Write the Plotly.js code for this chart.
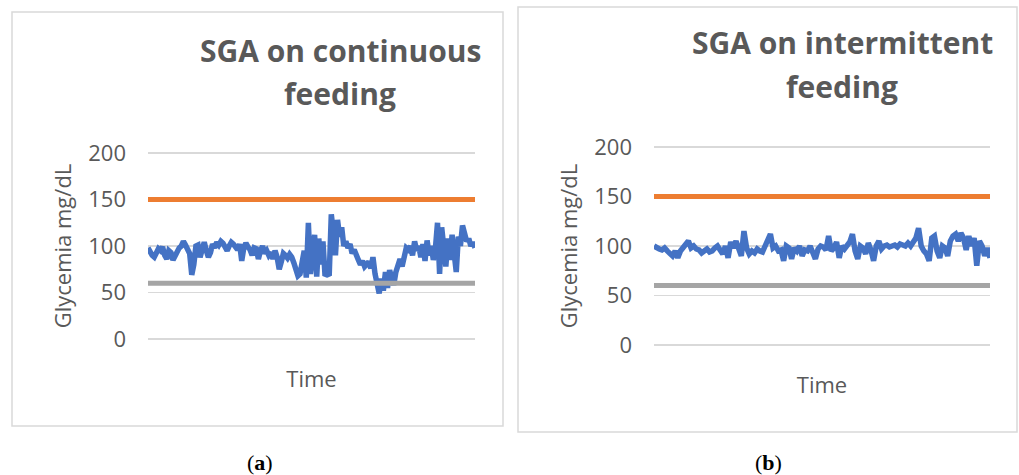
<!DOCTYPE html>
<html>
<head>
<meta charset="utf-8">
<script src="https://cdn.plot.ly/plotly-3.0.1.min.js"></script>
<style>
html,body{margin:0;padding:0;background:#fff;}
#chart{width:1019px;height:475px;}
</style>
</head>
<body>
<div id="chart"></div>
<script>
// ---- data ----
const continuousGlycemia = [
  98, 93, 90, 88, 93, 97, 95, 99, 90, 86, 95, 93, 85, 90, 96, 98,
  100, 105, 101, 95, 92, 69, 80, 100, 101, 88,
  99, 104, 95, 88, 93, 102, 98, 104, 101, 105, 103, 97, 95, 100, 104, 102,
  99, 96, 102, 84, 98, 103, 99, 96, 90, 98, 97, 86, 95, 100, 92, 95,
  90, 93, 86, 95, 88, 75, 83, 92, 90, 87, 91, 88, 82, 75, 68, 70,
  88, 95, 66, 125, 70, 100, 112, 67, 108, 80, 105, 68, 70, 68, 134, 115,
  90, 128, 110, 120, 100, 105, 98, 102, 92, 96, 88, 85, 80, 84, 78, 80,
  83, 76, 88, 70, 62, 49, 65, 52, 72, 55, 74, 68, 58, 72, 80, 86,
  78, 92, 98, 96, 100, 90, 105, 95, 100, 88, 102, 84, 106, 90, 100, 85,
  98, 125, 70, 120, 95, 78, 108, 85, 112, 95, 72, 110, 100, 122, 115, 105, 108, 100, 104, 98
];
const intermittentGlycemia = [
  100, 98, 97, 96, 98, 95, 92, 90, 95, 88,
  95, 98, 102, 105, 98, 100, 97, 96, 93, 96,
  97, 94, 95, 98, 100, 96, 92, 100, 88, 104, 98, 105, 96, 90,
  115, 98, 92, 95, 93, 97, 95, 94, 100, 108,
  112, 98, 100, 95, 96, 85, 100, 98, 87, 98, 95, 100, 90, 96,
  95, 100, 92, 87, 97, 100, 99, 96, 110, 95, 98, 104, 88, 100, 97,
  100, 104, 112, 95, 87, 100, 98, 92, 103, 96, 85, 100, 105,
  97, 100, 101, 99, 100, 101, 99, 102, 101, 100, 103,
  100, 104, 108, 118, 100, 95, 92, 85, 108, 110, 95, 88, 100,
  98, 90, 105, 110, 112, 105, 113, 108, 96, 110, 100, 108, 80, 105, 100, 90, 98, 88
];
const upperLimit = 150;
const lowerLimit = 60;
const yTicks = [0, 50, 100, 150, 200];
const panelTitles = [["SGA on continuous", "feeding"], ["SGA on intermittent", "feeding"]];
const panelLabels = ["(<b>a</b>)", "(<b>b</b>)"];
const yTitle = "Glycemia mg/dL";
const xTitle = "Time";

// ---- build ----
const W = 1019, H = 475;
const BLUE = "#4472C4", ORANGE = "#ED7D31", GRAY = "#A5A5A5";
const txtColor = "#595959";
const PAD = 4; // value padding so edge grid lines are drawn

function idx(arr){ return arr.map((_, i) => i); }

function seriesTraces(vals, xa, ya){
  const xs = idx(vals);
  const last = xs.length - 1;
  return [
    {x: xs, y: vals, xaxis: xa, yaxis: ya, type: "scatter", mode: "lines",
     line: {color: BLUE, width: 5.5}, hoverinfo: "skip"},
    {x: [0, last], y: [upperLimit, upperLimit], xaxis: xa, yaxis: ya, type: "scatter", mode: "lines",
     line: {color: ORANGE, width: 5}, hoverinfo: "skip"},
    {x: [0, last], y: [lowerLimit, lowerLimit], xaxis: xa, yaxis: ya, type: "scatter", mode: "lines",
     line: {color: GRAY, width: 5}, hoverinfo: "skip"}
  ];
}

const data = [].concat(
  seriesTraces(continuousGlycemia, "x", "y"),
  seriesTraces(intermittentGlycemia, "x2", "y2")
);

function px(x){ return x / W; }
function py(y){ return 1 - y / H; }

// top: pixel row of value 200, bottom: pixel row of value 0
function yAxis(anchor, top, bottom){
  const k = (bottom - top) / 200;
  return {
    anchor: anchor, domain: [py(bottom + PAD * k), py(top - PAD * k)], range: [-PAD, 200 + PAD],
    tickvals: yTicks, ticktext: yTicks.map(String),
    showgrid: true, gridcolor: "#D9D9D9", gridwidth: 1.5,
    zeroline: false, showline: false, ticks: "",
    tickfont: {family: "Open Sans", size: 22, color: txtColor},
    ticklabelstandoff: 21,
    title: {text: yTitle, font: {family: "Open Sans", size: 22, color: txtColor}, standoff: 10},
    fixedrange: true
  };
}
function xAxis(anchor, left, right, n){
  return {
    anchor: anchor, domain: [px(left), px(right)], range: [0, n - 1],
    showgrid: false, zeroline: false, showline: false, showticklabels: false, ticks: "",
    title: {text: xTitle, font: {family: "Open Sans", size: 22, color: txtColor}, standoff: 28},
    fixedrange: true
  };
}

const annotations = [];
function titleAnn(lines, cx, y1, y2){
  annotations.push({xref: "paper", yref: "paper", x: px(cx), y: py(y1), xanchor: "center", yanchor: "middle",
    text: "<b>" + lines[0] + "</b>", showarrow: false, font: {family: "Open Sans", size: 30, color: txtColor}});
  annotations.push({xref: "paper", yref: "paper", x: px(cx), y: py(y2), xanchor: "center", yanchor: "middle",
    text: "<b>" + lines[1] + "</b>", showarrow: false, font: {family: "Open Sans", size: 30, color: txtColor}});
}
titleAnn(panelTitles[0], 340, 50, 93);
titleAnn(panelTitles[1], 842, 42, 86);
annotations.push({xref: "paper", yref: "paper", x: px(260), y: py(462), xanchor: "center", yanchor: "middle",
  text: panelLabels[0], showarrow: false, font: {family: "Liberation Serif", size: 22, color: "#000"}});
annotations.push({xref: "paper", yref: "paper", x: px(768), y: py(462), xanchor: "center", yanchor: "middle",
  text: panelLabels[1], showarrow: false, font: {family: "Liberation Serif", size: 22, color: "#000"}});

const shapes = [
  {type: "rect", xref: "paper", yref: "paper", x0: px(12), x1: px(503), y0: py(426), y1: py(12),
   line: {color: "#D9D9D9", width: 1.5}, fillcolor: "rgba(0,0,0,0)", layer: "below"},
  {type: "rect", xref: "paper", yref: "paper", x0: px(518), x1: px(1017), y0: py(432), y1: py(7),
   line: {color: "#D9D9D9", width: 1.5}, fillcolor: "rgba(0,0,0,0)", layer: "below"}
];

const layout = {
  width: W, height: H,
  margin: {l: 0, r: 0, t: 0, b: 0, pad: 0},
  paper_bgcolor: "#fff", plot_bgcolor: "rgba(0,0,0,0)",
  showlegend: false,
  xaxis: xAxis("y", 148, 475, continuousGlycemia.length),
  yaxis: yAxis("x", 153, 339),
  xaxis2: xAxis("y2", 654, 990, intermittentGlycemia.length),
  yaxis2: yAxis("x2", 147, 345),
  annotations: annotations,
  shapes: shapes
};

Plotly.newPlot("chart", data, layout, {displayModeBar: false, staticPlot: true});
</script>
</body>
</html>
